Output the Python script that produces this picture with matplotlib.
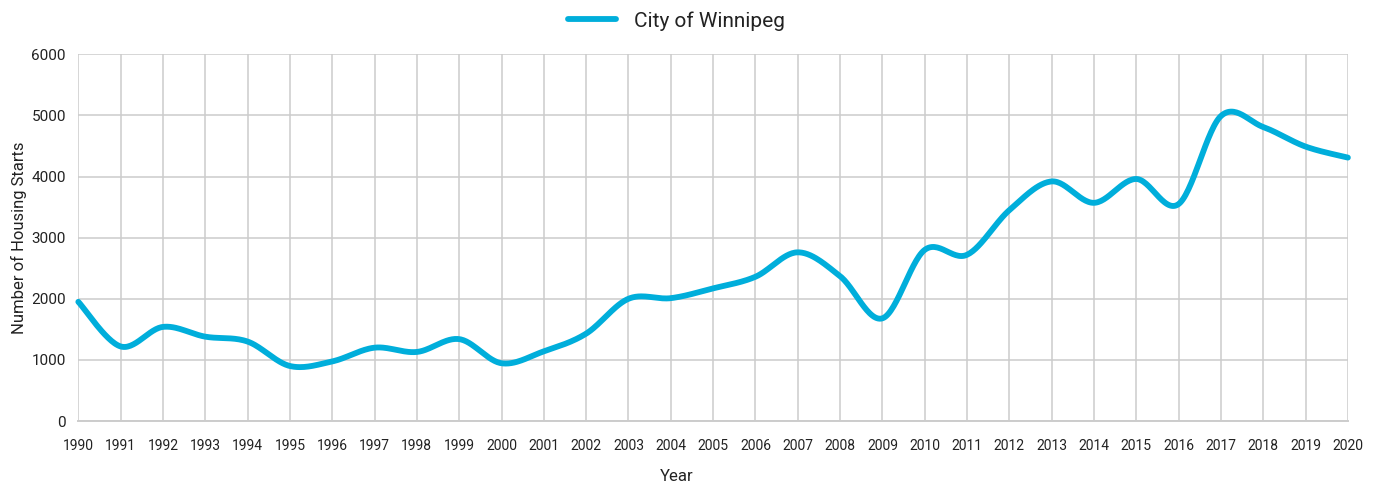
import numpy as np
import matplotlib.pyplot as plt

years = list(range(1990, 2021))
housing_starts = [
    1950, 1220, 1540, 1380, 1300, 900, 975, 1200, 1130, 1340,
    945, 1140, 1430, 2000, 2010, 2170, 2360, 2760, 2370, 1680,
    2800, 2720, 3450, 3920, 3570, 3960, 3550, 4990, 4810, 4490,
    4310
]
y_ticks = [0, 1000, 2000, 3000, 4000, 5000, 6000]

line_color = '#00aedb'
grid_color = '#cccccc'
text_color = '#222222'


def smooth(x, y, steps=30):
    # Catmull-Rom curve through every point, same as a "smoothed line" chart
    x = np.asarray(x, dtype=float)
    y = np.asarray(y, dtype=float)
    px = np.concatenate([[x[0]], x, [x[-1]]])
    py = np.concatenate([[y[0]], y, [y[-1]]])
    t = np.linspace(0, 1, steps, endpoint=False)
    xs, ys = [], []
    for i in range(1, len(px) - 2):
        for p, out in ((px, xs), (py, ys)):
            p0, p1, p2, p3 = p[i - 1], p[i], p[i + 1], p[i + 2]
            out.append(0.5 * (2 * p1 + (p2 - p0) * t
                              + (2 * p0 - 5 * p1 + 4 * p2 - p3) * t ** 2
                              + (3 * p1 - p0 - 3 * p2 + p3) * t ** 3))
    xs.append([x[-1]])
    ys.append([y[-1]])
    return np.concatenate(xs), np.concatenate(ys)


plt.rcParams['font.family'] = ['Roboto', 'DejaVu Sans']

fig = plt.figure(figsize=(13.74, 4.87), dpi=100)
ax = fig.add_axes([0.057, 0.1355, 0.924, 0.753])

sx, sy = smooth(years, housing_starts)
ax.plot(sx, sy, color=line_color, linewidth=4.2, solid_capstyle='round',
        clip_on=False, zorder=3, label='City of Winnipeg')

ax.set_xlim(1990, 2020)
ax.set_ylim(0, 6000)
ax.set_xticks(years)
ax.set_yticks(y_ticks)

ax.grid(True, color=grid_color, linewidth=1.1)
ax.set_axisbelow(True)
for side in ('top', 'right', 'left'):
    ax.spines[side].set_visible(False)
ax.spines['bottom'].set_color(grid_color)
ax.spines['bottom'].set_linewidth(1.4)

ax.tick_params(axis='both', length=0, colors=text_color)
ax.tick_params(axis='y', labelsize=11, pad=9)
ax.tick_params(axis='x', labelsize=10, pad=13)

ax.set_ylabel('Number of Housing Starts', fontsize=12, color=text_color, labelpad=3)
ax.set_xlabel('Year', fontsize=12, color=text_color)
ax.xaxis.set_label_coords(0.471, -0.13)
ax.xaxis.label.set_va('top')

fig.legend(loc='center', bbox_to_anchor=(676.5 / 1374, 1 - 21 / 487),
           frameon=False, fontsize=15, handlelength=2.3, handletextpad=0.9,
           labelcolor=text_color)

fig.savefig('out.png', dpi=100, facecolor='white')
